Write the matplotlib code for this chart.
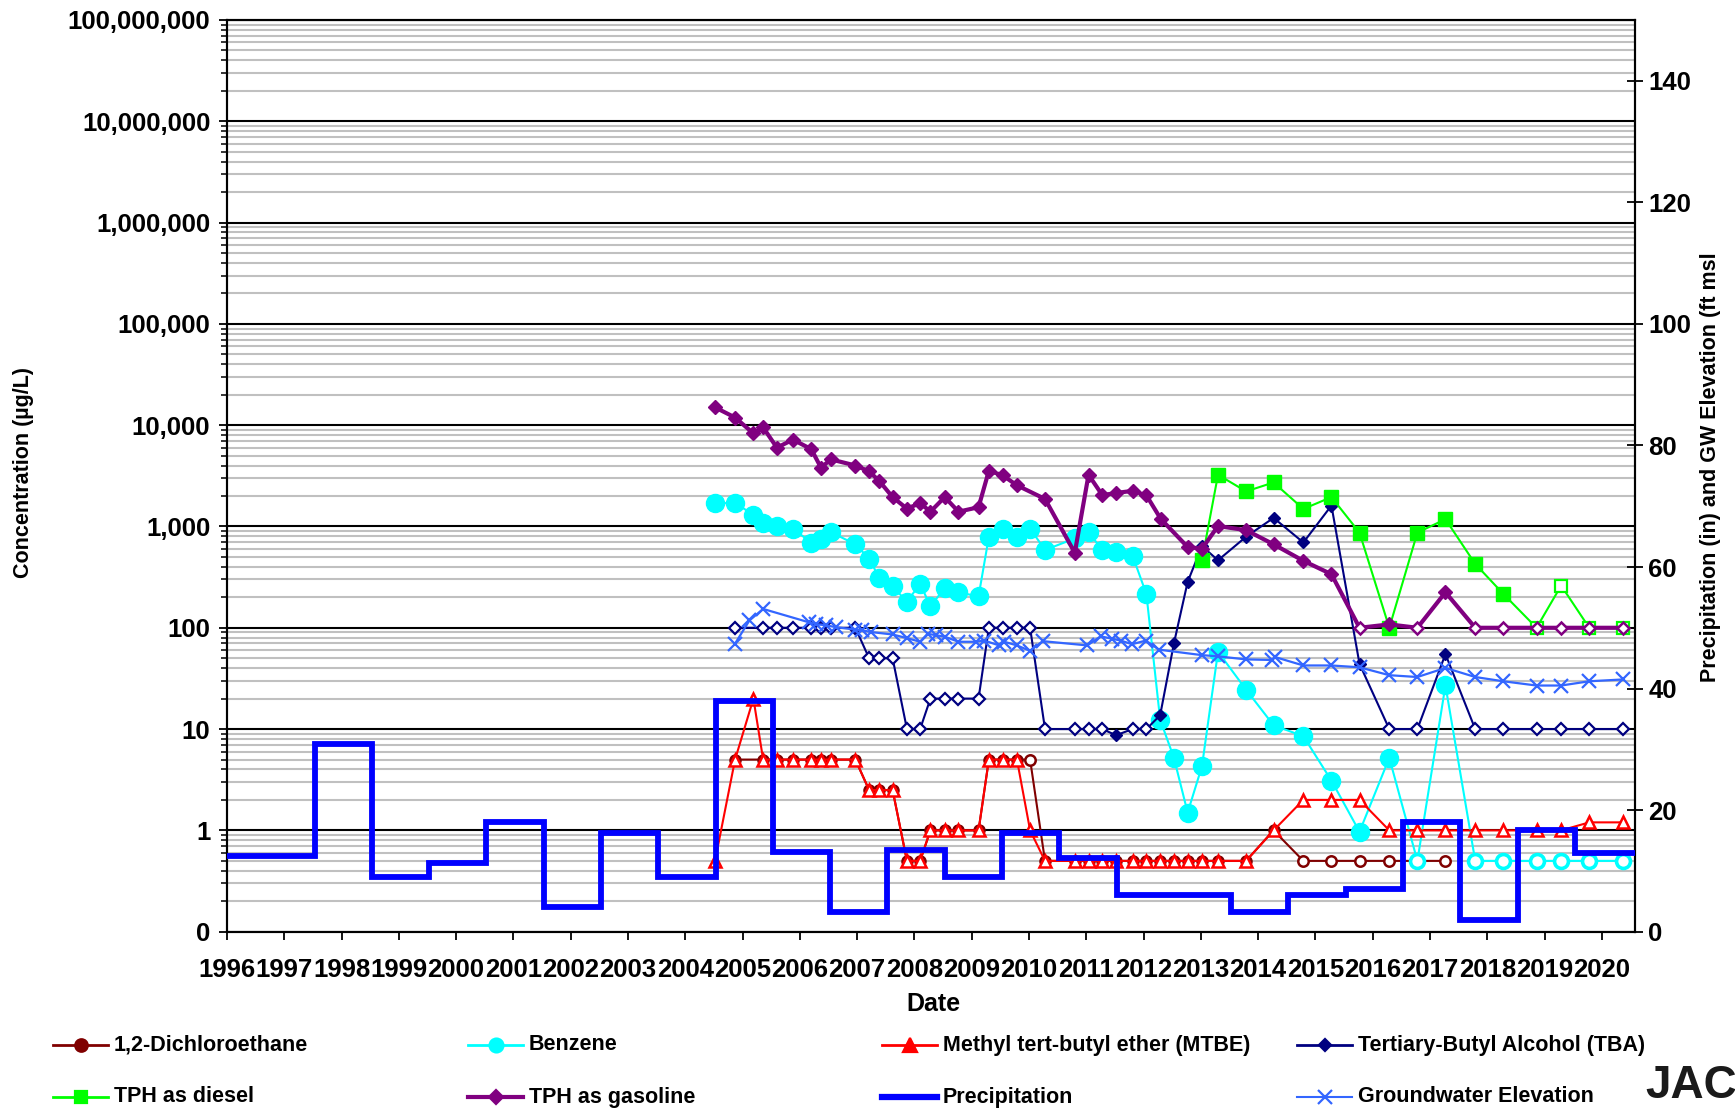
import matplotlib
matplotlib.use("Agg")
import matplotlib.pyplot as plt
from matplotlib.lines import Line2D
from matplotlib.ticker import FixedLocator, FuncFormatter, LogLocator, NullFormatter

plt.rcParams["font.family"] = ["Liberation Sans", "DejaVu Sans"]
plt.rcParams["font.weight"] = "bold"

# ---------------------------------------------------------------------------
# Data (dates as decimal years, concentrations in ug/L, right axis in in / ft)
# ---------------------------------------------------------------------------
years = list(range(1996, 2021))

gas_dates = [2004.52, 2004.87, 2005.19, 2005.36, 2005.60, 2005.88, 2006.20, 2006.37, 2006.54,
             2006.97, 2007.21, 2007.39, 2007.62, 2007.87, 2008.10, 2008.28, 2008.53, 2008.77,
             2009.12, 2009.30, 2009.54, 2009.79, 2010.28, 2010.80, 2011.04, 2011.28, 2011.52,
             2011.81, 2012.05, 2012.30, 2012.77, 2013.02, 2013.30, 2013.79, 2014.27, 2014.79,
             2015.28, 2015.77, 2016.29, 2016.78, 2017.27, 2017.79, 2018.28, 2018.86, 2019.29,
             2019.78, 2020.37]
gas_vals = [15000, 11900, 8300, 9500, 6000, 7200, 5800, 3800, 4600, 4000, 3500, 2800, 1950,
            1500, 1700, 1400, 1950, 1400, 1550, 3550, 3200, 2550, 1870, 550, 3240, 2040, 2140,
            2250, 2030, 1190, 627, 604, 1010, 920, 667, 458, 338, 100, 108, 100, 224, 100, 100,
            100, 100, 100, 100]
gas_nd = [2015.77, 2016.78, 2017.79, 2018.28, 2018.86, 2019.29, 2019.78, 2020.37]

diesel_dates = [2013.02, 2013.30, 2013.79, 2014.27, 2014.79, 2015.28, 2015.77, 2016.29,
                2016.78, 2017.27, 2017.79, 2018.28, 2018.86, 2019.29, 2019.78, 2020.37]
diesel_vals = [464, 3240, 2220, 2720, 1490, 1950, 870, 100, 870, 1180, 427, 216, 100, 261, 100, 100]
diesel_nd = [2018.86, 2019.29, 2019.78, 2020.37]

benz_dates = [2004.52, 2004.87, 2005.19, 2005.36, 2005.60, 2005.88, 2006.20, 2006.37, 2006.54,
              2006.97, 2007.21, 2007.39, 2007.62, 2007.87, 2008.10, 2008.28, 2008.53, 2008.77,
              2009.12, 2009.30, 2009.54, 2009.79, 2010.02, 2010.28, 2010.80, 2011.04, 2011.28,
              2011.52, 2011.81, 2012.05, 2012.29, 2012.53, 2012.77, 2013.02, 2013.30, 2013.79,
              2014.27, 2014.79, 2015.28, 2015.77, 2016.29, 2016.78, 2017.27, 2017.79, 2018.28,
              2018.86, 2019.29, 2019.78, 2020.37]
benz_vals = [1700, 1700, 1310, 1090, 1010, 955, 690, 757, 880, 667, 482, 309, 256, 181, 272,
             163, 247, 224, 204, 792, 949, 792, 955, 586, 762, 880, 586, 560, 512, 215, 12.4,
             5.2, 1.5, 4.3, 58, 24.5, 10.9, 8.5, 3.1, 0.97, 5.2, 0.5, 27, 0.5, 0.5, 0.5, 0.5,
             0.5, 0.5]
benz_nd = [2016.78, 2017.79, 2018.28, 2018.86, 2019.29, 2019.78, 2020.37]

mtbe_dates = benz_dates
mtbe_vals = [0.5, 5, 20, 5, 5, 5, 5, 5, 5, 5, 2.5, 2.5, 2.5, 0.5, 0.5, 1, 1, 1, 1, 5, 5, 5, 1,
             0.5, 0.5, 0.5, 0.5, 0.5, 0.5, 0.5, 0.5, 0.5, 0.5, 0.5, 0.5, 0.5, 1, 2, 2, 2, 1, 1,
             1, 1, 1, 1, 1, 1.2, 1.2]
mtbe_nd = mtbe_dates

dca_dates = [2004.87, 2005.36, 2005.60, 2005.88, 2006.20, 2006.37, 2006.54, 2006.97, 2007.21,
             2007.39, 2007.62, 2007.87, 2008.10, 2008.28, 2008.53, 2008.77, 2009.12, 2009.30,
             2009.54, 2009.79, 2010.02, 2010.28, 2010.80, 2011.04, 2011.28, 2011.52, 2011.81,
             2012.05, 2012.29, 2012.53, 2012.77, 2013.02, 2013.30, 2013.79, 2014.27, 2014.79,
             2015.28, 2015.77, 2016.29, 2016.78, 2017.27]
dca_vals = [5, 5, 5, 5, 5, 5, 5, 5, 2.5, 2.5, 2.5, 0.5, 0.5, 1, 1, 1, 1, 5, 5, 5, 5, 0.5, 0.5,
            0.5, 0.5, 0.5, 0.5, 0.5, 0.5, 0.5, 0.5, 0.5, 0.5, 0.5, 1, 0.5, 0.5, 0.5, 0.5, 0.5, 0.5]
dca_nd = [2010.02, 2014.79, 2015.28, 2015.77, 2016.29, 2016.78, 2017.27]

tba_dates = dca_dates + [2017.79, 2018.28, 2018.86, 2019.29, 2019.78, 2020.37]
tba_vals = [100, 100, 100, 100, 100, 100, 100, 100, 50, 50, 50, 10, 10, 20, 20, 20, 20, 100,
            100, 100, 100, 10, 10, 10, 10, 8.7, 10, 10, 13.7, 70, 284, 640, 464, 792, 1216, 695,
            1610, 44, 10, 10, 55, 10, 10, 10, 10, 10, 10]
tba_detected = [2011.52, 2012.29, 2012.53, 2012.77, 2013.02, 2013.30, 2013.79, 2014.27,
                2014.79, 2015.28, 2015.77, 2017.27]
tba_nd = [d for d in tba_dates if d not in tba_detected]

gw_dates = [2004.87, 2005.12, 2005.36, 2006.16, 2006.28, 2006.46, 2006.63, 2006.97, 2007.09,
            2007.24, 2007.62, 2007.87, 2008.10, 2008.23, 2008.37, 2008.54, 2008.77, 2009.07,
            2009.22, 2009.48, 2009.57, 2009.79, 2010.02, 2010.24, 2011.02, 2011.25, 2011.45,
            2011.60, 2011.80, 2012.04, 2012.27, 2013.02, 2013.30, 2013.79, 2014.25, 2014.29,
            2014.79, 2015.28, 2015.77, 2016.29, 2016.78, 2017.27, 2017.79, 2018.28, 2018.86,
            2019.29, 2019.78, 2020.37]
gw_ft = [47.4, 51.2, 53.1, 50.9, 50.6, 50.4, 50.1, 49.7, 49.6, 49.3, 48.9, 48.3, 47.7, 49.0,
         48.8, 48.5, 47.7, 47.7, 47.9, 47.1, 47.7, 47.1, 46.2, 47.8, 47.1, 48.6, 48.2, 47.9,
         47.3, 47.9, 46.4, 45.5, 45.3, 44.8, 44.7, 45.2, 43.8, 43.8, 43.5, 42.2, 41.9, 43.4,
         41.9, 41.2, 40.5, 40.5, 41.2, 41.5]

# water-year precipitation, step starts
precip_start = [1996.00, 1997.53, 1998.53, 1999.53, 2000.53, 2001.53, 2002.53, 2003.53,
                2004.53, 2005.53, 2006.53, 2007.53, 2008.53, 2009.53, 2010.53, 2011.53,
                2012.53, 2013.53, 2014.53, 2015.53, 2016.53, 2017.53, 2018.53, 2019.53]
precip_in = [12.4, 30.8, 9.0, 11.3, 18.0, 4.1, 16.3, 9.0, 38.0, 13.1, 3.2, 13.4, 9.0, 16.3,
             12.1, 6.0, 6.0, 3.2, 6.1, 7.1, 18.1, 1.9, 16.7, 13.0]

X_END = 2020.58


def plot_series(axis, x, y, nd, color, lw, marker, ms, open_ms, mew, z):
    axis.plot(x, y, color=color, lw=lw, zorder=z, solid_joinstyle="round")
    xf = [a for a in x if a not in nd]
    yf = [b for a, b in zip(x, y) if a not in nd]
    xo = [a for a in x if a in nd]
    yo = [b for a, b in zip(x, y) if a in nd]
    axis.plot(xf, yf, ls="none", marker=marker, ms=ms, mfc=color, mec=color, zorder=z + 0.1)
    axis.plot(xo, yo, ls="none", marker=marker, ms=open_ms, mfc="white", mec=color,
              mew=mew, zorder=z + 0.1)


fig = plt.figure(figsize=(17.35, 11.11), dpi=100)
fig.subplots_adjust(left=0.1308, right=0.9424, top=0.982, bottom=0.1614)
ax = fig.add_subplot(111)

ax.set_yscale("log")
ax.set_ylim(0.1, 1e8)
ax.set_xlim(1996.0, X_END)

# gridlines: black decades, grey in-between
ax.yaxis.set_major_locator(LogLocator(base=10, numticks=20))
ax.yaxis.set_minor_locator(LogLocator(base=10, subs=range(2, 10), numticks=200))
ax.yaxis.set_minor_formatter(NullFormatter())
ax.yaxis.set_major_formatter(FuncFormatter(lambda v, p: "0" if v < 1 else f"{v:,.0f}"))
ax.grid(which="minor", axis="y", color="#C0C0C0", lw=1.5, zorder=0)
ax.grid(which="major", axis="y", color="black", lw=1.5, zorder=0.5)
ax.set_axisbelow(True)

ax.xaxis.set_major_locator(FixedLocator(years))
ax.set_xticklabels([str(y) for y in years])
ax.tick_params(axis="x", direction="out", length=6, width=1.3, labelsize=18.5, pad=13)
ax.tick_params(axis="y", which="major", direction="out", length=6, width=1.3, labelsize=18.5, pad=6)
ax.tick_params(axis="y", which="minor", direction="out", length=4, width=1.1)
for s in ax.spines.values():
    s.set_linewidth(1.5)

plot_series(ax, dca_dates, dca_vals, dca_nd, "#800000", 1.5, "o", 8, 7.5, 1.8, 3)
plot_series(ax, benz_dates, benz_vals, benz_nd, "#00FFFF", 1.5, "o", 13, 10, 2.6, 4)
plot_series(ax, mtbe_dates, mtbe_vals, mtbe_nd, "#FF0000", 1.5, "^", 9, 9, 1.8, 5)
plot_series(ax, tba_dates, tba_vals, tba_nd, "#000080", 1.5, "D", 6.5, 6.2, 1.6, 6)
plot_series(ax, diesel_dates, diesel_vals, diesel_nd, "#00FF00", 1.5, "s", 9.5, 8, 1.6, 7)
plot_series(ax, gas_dates, gas_vals, gas_nd, "#800080", 3.0, "D", 7.5, 6.2, 1.8, 8)

ax2 = ax.twinx()
ax2.set_ylim(0, 150)
ax2.set_yticks(range(0, 141, 20))
ax2.tick_params(axis="y", direction="inout", length=11, width=1.3, labelsize=18.5, pad=4)
for s in ax2.spines.values():
    s.set_linewidth(1.5)

ax2.step(precip_start + [X_END], precip_in + [precip_in[-1]], where="post",
         color="#0000FF", lw=4.2, zorder=3, solid_joinstyle="miter")
ax2.plot(gw_dates, gw_ft, color="#3366FF", lw=1.6, marker="x", ms=10, mew=1.6, zorder=4)
ax2.set_xlim(1996.0, X_END)

# axis titles
fig.text(933 / 1735, 1 - 1004 / 1111, "Date", ha="center", va="center", fontsize=18,
         fontweight="bold")
fig.text(24 / 1735, 1 - 473 / 1111, "Concentration (µg/L)", rotation=90, ha="center",
         va="center", fontsize=15.5, fontweight="bold")
fig.text(1710 / 1735, 1 - 467 / 1111, "Precipitation (in) and GW Elevation (ft msl",
         rotation=90, ha="center", va="center", fontsize=15.5, fontweight="bold")

# legend, drawn by hand on a 4-column grid
legend_items = [
    ("1,2-Dichloroethane", "#800000", 2.0, "o", 9),
    ("Benzene", "#00FFFF", 2.0, "o", 10),
    ("Methyl tert-butyl ether (MTBE)", "#FF0000", 2.0, "^", 10),
    ("Tertiary-Butyl Alcohol (TBA)", "#000080", 2.0, "D", 6.5),
    ("TPH as diesel", "#00FF00", 2.0, "s", 9),
    ("TPH as gasoline", "#800080", 3.0, "D", 7.5),
    ("Precipitation", "#0000FF", 4.5, None, 0),
    ("Groundwater Elevation", "#3366FF", 1.5, "x", 10),
]
col_x = [53, 468, 882, 1297]
row_y = [1045, 1097]
W, H = 1735.0, 1111.0
for i, (label, color, lw, marker, ms) in enumerate(legend_items):
    x0 = col_x[i % 4]
    y = 1 - row_y[i // 4] / H
    fig.add_artist(Line2D([x0 / W, (x0 + 55) / W], [y, y], transform=fig.transFigure,
                          color=color, lw=lw))
    if marker:
        fig.add_artist(Line2D([(x0 + 27.5) / W], [y], transform=fig.transFigure, ls="none",
                              marker=marker, ms=ms, mfc=color, mec=color, mew=1.6))
    fig.text((x0 + 61) / W, y, label, ha="left", va="center", fontsize=15.5,
             fontweight="bold")

# logo fragment in the bottom-right corner
fig.text(1645 / W, 1 - 1086 / H, "JAC", ha="left", va="center", fontsize=33,
         fontweight="bold", color="#1a1a1a")

fig.savefig("out.png", dpi=100)
